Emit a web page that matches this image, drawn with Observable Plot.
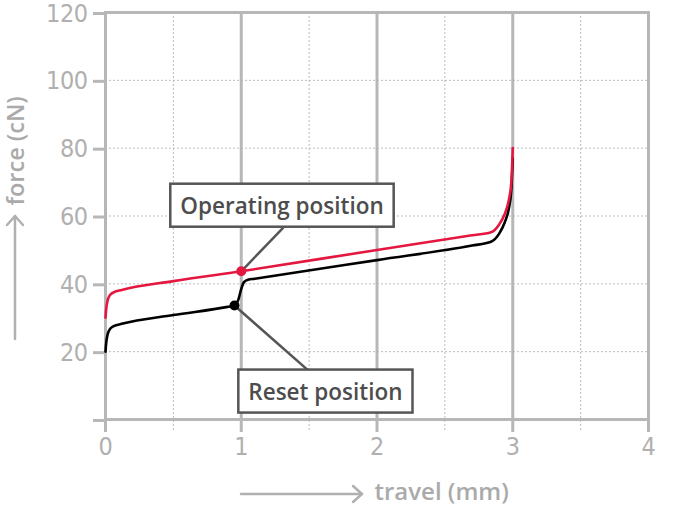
<!DOCTYPE html>
<html><head><meta charset="utf-8">
<script src="https://cdn.jsdelivr.net/npm/d3@7"></script>
<script src="https://cdn.jsdelivr.net/npm/@observablehq/plot@0.6"></script>
<style>body{margin:0;background:#fff;} svg{display:block;}</style>
</head><body><div id="chart"></div>
<script>
// Operating (red) curve
const opTravel = [0, 0.005, 0.015, 0.03, 0.06, 0.12, 0.5, 1.0, 2.0, 2.7, 2.84, 2.9, 2.94, 2.97, 2.99, 3.0];
const opForce  = [30, 32.5, 35, 36.5, 37.5, 38.2, 40.8, 43.7, 50.0, 54.3, 55.2, 57.5, 60.5, 64.5, 70, 80];
// Reset (black) curve
const rsTravel = [0, 0.005, 0.015, 0.03, 0.06, 0.12, 0.5, 0.9, 0.95, 0.98, 1.0, 1.02, 1.05, 1.1, 2.0, 2.7, 2.84, 2.9, 2.94, 2.97, 2.99, 3.0];
const rsForce  = [20, 22.5, 25, 26.5, 27.5, 28.2, 30.8, 33.2, 33.6, 35.5, 38.5, 40.5, 41.2, 41.5, 47.0, 51.3, 52.4, 54.8, 58, 62, 68, 77];
// Marked points and annotations
const markNames  = ["Operating position", "Reset position"];
const markTravel = [1.0, 0.95];
const markForce  = [43.7, 33.6];
const labelTravel = [1.30, 1.62];
const labelForce  = [62.8, 8.0];
const leaderTravel = [1.31, 1.51];
const leaderForce  = [56.6, 13.9];
const xTicks = [0, 1, 2, 3, 4];
const xMinor = [0.5, 1.5, 2.5, 3.5];
const yTicks = [0, 20, 40, 60, 80, 100, 120];
const yGrid = [20, 40, 60, 80, 100];
const xTitle = "travel (mm)";
const yTitle = "force (cN)";

const opData = opTravel.map((t, i) => ({t, f: opForce[i]}));
const rsData = rsTravel.map((t, i) => ({t, f: rsForce[i]}));
const marks = markNames.map((n, i) => ({n, t: markTravel[i], f: markForce[i], lt: labelTravel[i], lf: labelForce[i], et: leaderTravel[i], ef: leaderForce[i], c: i === 0 ? "#e3173f" : "#000"}));

const gray = "#b7b7b7";
const tickFont = "'Liberation Sans Narrow', 'DejaVu Sans Condensed', sans-serif";
const font = "'Open Sans', Roboto, sans-serif";

const chart = Plot.plot({
  width: 680, height: 507,
  marginLeft: 105, marginRight: 32, marginTop: 12, marginBottom: 88,
  style: {fontFamily: tickFont, background: "#fff", overflow: "visible"},
  x: {domain: [0, 4]},
  y: {domain: [0, 120]},
  marks: [
    Plot.ruleY(yGrid, {stroke: "#bbb", strokeWidth: 1, strokeDasharray: "2,2"}),
    Plot.ruleX(xMinor, {stroke: "#bbb", strokeWidth: 1, strokeDasharray: "2,2", insetBottom: -13}),
    Plot.ruleX([1, 2, 3], {stroke: gray, strokeWidth: 3}),
    Plot.frame({stroke: gray, strokeWidth: 3}),
    Plot.axisX({ticks: xTicks, tickSize: 13, tickPadding: 5, stroke: gray, color: "#b0b0b0", fontSize: 25, label: null, tickFormat: d => d}),
    Plot.axisY({ticks: yTicks, tickSize: 12, tickPadding: 6, dy: 1, stroke: gray, color: "#b0b0b0", fontSize: 25, label: null, tickFormat: d => d === 0 ? "" : d}),
    Plot.line(rsData, {x: "t", y: "f", stroke: "#000", strokeWidth: 2.6, curve: "monotone-x"}),
    Plot.line(opData, {x: "t", y: "f", stroke: "#e3173f", strokeWidth: 2.6, curve: "monotone-x"}),
    Plot.link(marks, {x1: "t", y1: "f", x2: "et", y2: "ef", stroke: "#555", strokeWidth: 2.5}),
    Plot.dot(marks, {x: "t", y: "f", r: 5, fill: "c", stroke: "none"}),
    Plot.text(marks, {x: "lt", y: "lf", text: "n", fontSize: 22.5, fill: "#4d4d4d", fontWeight: 600, fontFamily: font, className: "anno"}),
    Plot.text([xTitle], {text: d => d, frameAnchor: "bottom-left", dx: 269, dy: 80, textAnchor: "start", fontSize: 24, fontWeight: 600, fontFamily: font, fill: "#aaa"}),
    Plot.text([yTitle], {text: d => d, frameAnchor: "left", rotate: -90, dx: -89, dy: -10.5, textAnchor: "start", fontSize: 23.5, fontWeight: 600, fontFamily: font, fill: "#aaa"})
  ]
});
document.getElementById("chart").appendChild(chart);

const svg = d3.select(chart);
svg.selectAll("g[aria-label='x-axis tick'], g[aria-label='y-axis tick']").attr("stroke-width", 3);
svg.selectAll("g[aria-label='x-axis tick label'], g[aria-label='y-axis tick label']").attr("letter-spacing", "-0.5px");

// boxes behind annotation text
svg.selectAll("g.anno").each(function() {
  const g = this;
  d3.select(g).selectAll("text").nodes().forEach(t => {
    const b = t.getBBox();
    const padX = 10, padY = 7;
    const r = document.createElementNS("http://www.w3.org/2000/svg", "rect");
    r.setAttribute("x", b.x - padX); r.setAttribute("y", b.y - padY + 1);
    r.setAttribute("width", b.width + 2 * padX); r.setAttribute("height", b.height + 2 * padY - 2);
    r.setAttribute("fill", "#fff"); r.setAttribute("stroke", "#555"); r.setAttribute("stroke-width", 2.5);
    const tr = t.getAttribute("transform");
    if (tr) r.setAttribute("transform", tr);
    g.insertBefore(r, t);
  });
});

// arrows in front of the axis titles
const ax = svg.append("g").attr("fill", "none").attr("stroke", "#b0b0b0").attr("stroke-width", 2.5).attr("stroke-linecap", "round").attr("stroke-linejoin", "round");
ax.append("line").attr("x1", 241).attr("y1", 494).attr("x2", 362).attr("y2", 494);
ax.append("polyline").attr("points", "353,486 362,494 353,502");
ax.append("line").attr("x1", 15).attr("y1", 339).attr("x2", 15).attr("y2", 216);
ax.append("polyline").attr("points", "7,225 15,216 23,225");
</script>
</body></html>
